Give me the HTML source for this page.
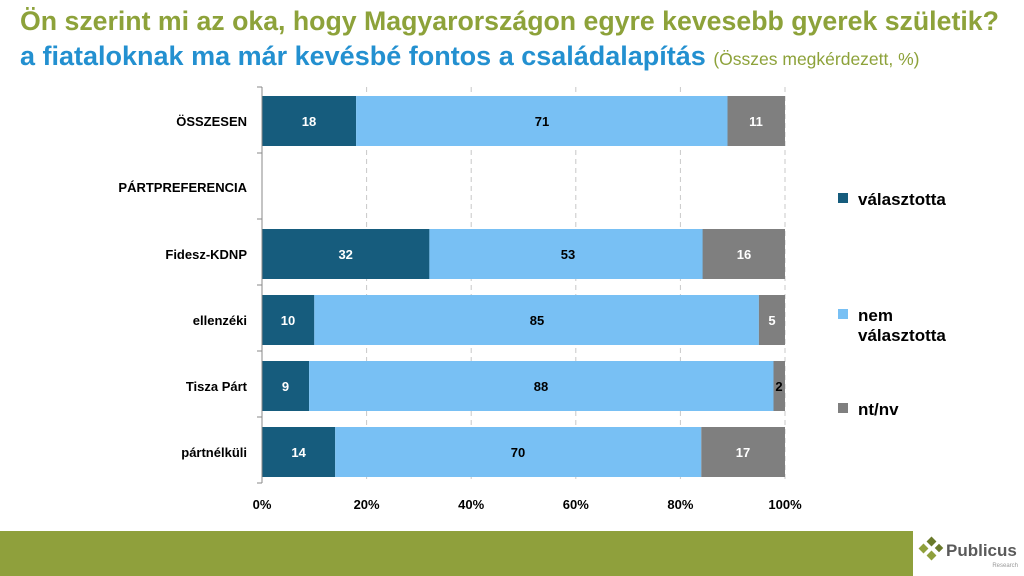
<!DOCTYPE html><html><head><meta charset="utf-8"><style>
body{margin:0;width:1024px;height:576px;background:#fff;position:relative;overflow:hidden;font-family:"Liberation Sans",sans-serif}
.t1{position:absolute;left:20px;top:6px;font-size:26.7px;font-weight:bold;color:#8da23a;white-space:nowrap}
.t2{position:absolute;left:20px;top:41px;font-size:27px;font-weight:bold;color:#2390d0;white-space:nowrap}
.t2 span{font-size:17.5px;font-weight:normal;color:#8da23a}
</style></head><body>
<div class="t1">Ön szerint mi az oka, hogy Magyarországon egyre kevesebb gyerek születik?</div>
<div class="t2">a fiataloknak ma már kevésbé fontos a családalapítás <span>(Összes megkérdezett, %)</span></div>
<svg width="1024" height="576" style="position:absolute;left:0;top:0" font-family="Liberation Sans,sans-serif">
<g stroke="#c8c8c8" stroke-dasharray="5,4">
<line x1="366.6" y1="87" x2="366.6" y2="483"/><line x1="471.2" y1="87" x2="471.2" y2="483"/><line x1="575.8" y1="87" x2="575.8" y2="483"/><line x1="680.4" y1="87" x2="680.4" y2="483"/><line x1="785" y1="87" x2="785" y2="483"/>
</g>
<g font-size="13" font-weight="bold" text-anchor="middle">
<rect x="262" y="96" width="94.1" height="50" fill="#165c7d"/><rect x="356.1" y="96" width="371.4" height="50" fill="#78c0f4"/><rect x="727.5" y="96" width="57.5" height="50" fill="#7f7f7f"/>
<text x="309" y="126" fill="#fff">18</text><text x="542" y="126">71</text><text x="756" y="126" fill="#fff">11</text>
<rect x="262" y="229" width="167.4" height="50" fill="#165c7d"/><rect x="429.4" y="229" width="277.2" height="50" fill="#78c0f4"/><rect x="702.6" y="229" width="82.4" height="50" fill="#7f7f7f"/>
<text x="345.7" y="259" fill="#fff">32</text><text x="568" y="259">53</text><text x="744" y="259" fill="#fff">16</text>
<rect x="262" y="295" width="52.3" height="50" fill="#165c7d"/><rect x="314.3" y="295" width="444.6" height="50" fill="#78c0f4"/><rect x="758.9" y="295" width="26.1" height="50" fill="#7f7f7f"/>
<text x="288" y="325" fill="#fff">10</text><text x="537" y="325">85</text><text x="772" y="325" fill="#fff">5</text>
<rect x="262" y="361" width="47.1" height="50" fill="#165c7d"/><rect x="309.1" y="361" width="464.4" height="50" fill="#78c0f4"/><rect x="773.5" y="361" width="11.5" height="50" fill="#7f7f7f"/>
<text x="285.5" y="391" fill="#fff">9</text><text x="541" y="391">88</text><text x="779" y="391">2</text>
<rect x="262" y="427" width="73.2" height="50" fill="#165c7d"/><rect x="335.2" y="427" width="366.1" height="50" fill="#78c0f4"/><rect x="701.3" y="427" width="83.7" height="50" fill="#7f7f7f"/>
<text x="298.6" y="457" fill="#fff">14</text><text x="518" y="457">70</text><text x="743" y="457" fill="#fff">17</text>
</g>
<g stroke="#888"><line x1="262" y1="87" x2="262" y2="483"/><line x1="257" y1="87" x2="262" y2="87"/><line x1="257" y1="153" x2="262" y2="153"/><line x1="257" y1="219" x2="262" y2="219"/><line x1="257" y1="285" x2="262" y2="285"/><line x1="257" y1="351" x2="262" y2="351"/><line x1="257" y1="417" x2="262" y2="417"/><line x1="257" y1="483" x2="262" y2="483"/></g>
<g font-size="13" font-weight="bold" text-anchor="end">
<text x="247" y="126">ÖSSZESEN</text><text x="247" y="192">PÁRTPREFERENCIA</text><text x="247" y="259">Fidesz-KDNP</text><text x="247" y="325">ellenzéki</text><text x="247" y="391">Tisza Párt</text><text x="247" y="457">pártnélküli</text>
</g>
<g font-size="13" font-weight="bold" text-anchor="middle">
<text x="262" y="509">0%</text><text x="366.6" y="509">20%</text><text x="471.2" y="509">40%</text><text x="575.8" y="509">60%</text><text x="680.4" y="509">80%</text><text x="785" y="509">100%</text>
</g>
<g font-size="17" font-weight="bold">
<rect x="838" y="193" width="10" height="10" fill="#165c7d"/><text x="858" y="205">választotta</text>
<rect x="838" y="309" width="10" height="10" fill="#78c0f4"/><text x="858" y="321">nem</text><text x="858" y="341">választotta</text>
<rect x="838" y="403" width="10" height="10" fill="#7f7f7f"/><text x="858" y="415">nt/nv</text>
</g>
<rect x="0" y="531" width="913" height="45" fill="#8fa03c"/>
<g fill="#8fa03c"><rect x="920" y="545" width="7" height="7" transform="rotate(45 923.5 548.5)"/><rect x="928" y="538" width="7" height="7" transform="rotate(45 931.5 541.5)" fill="#6a7a2a"/><rect x="928" y="552" width="7" height="7" transform="rotate(45 931.5 555.5)"/><rect x="936" y="545" width="6" height="6" transform="rotate(45 939 548)" fill="#6a7a2a"/></g>
<text x="946" y="556" font-size="17" font-weight="bold" fill="#5a5a5a">Publicus</text>
<text x="1018" y="567" font-size="6" fill="#999" text-anchor="end">Research</text>
</svg>
</body></html>
